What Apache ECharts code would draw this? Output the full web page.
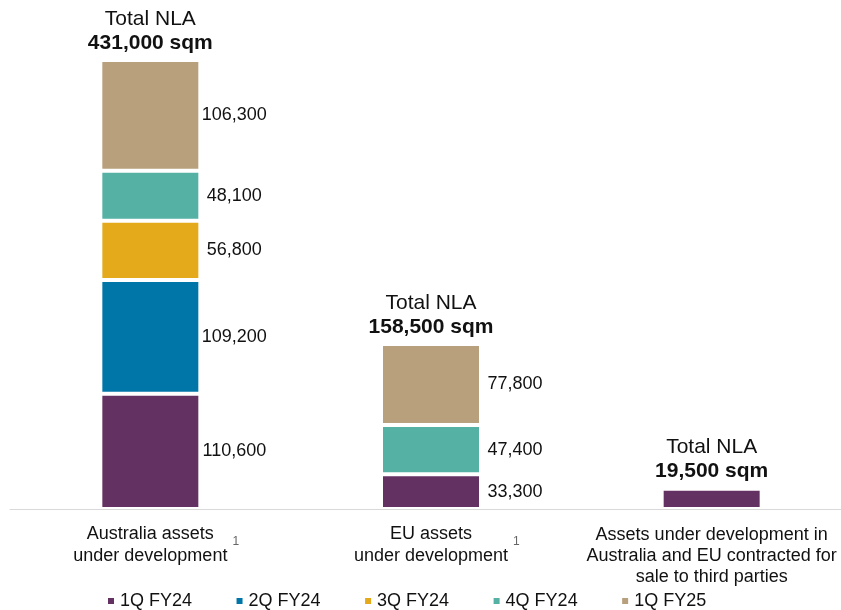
<!DOCTYPE html>
<html>
<head>
<meta charset="utf-8">
<script src="https://cdn.jsdelivr.net/npm/echarts@6/dist/echarts.min.js"></script>
<style>
  html, body { margin: 0; padding: 0; background: #fff; }
  #chart { width: 841px; height: 610px; }
</style>
</head>
<body>
<div id="chart"></div>
<script>
// Development pipeline by quarter of commencement (net lettable area, sqm)
const categories = [
  'Australia assets\nunder development',
  'EU assets\nunder development',
  'Assets under development in\nAustralia and EU contracted for\nsale to third parties'
];
const footnotes = ['1', '1', ''];

const seriesNames = ['1Q FY24', '2Q FY24', '3Q FY24', '4Q FY24', '1Q FY25'];
const q1FY24 = [110600, 33300, 19500];
const q2FY24 = [109200, null, null];
const q3FY24 = [56800, null, null];
const q4FY24 = [48100, 47400, null];
const q1FY25 = [106300, 77800, null];

// segment values are printed beside the bars for these categories only
const segmentLabelShown = [true, true, false];

const colors = ['#643262', '#0076A8', '#E5AA1C', '#55B1A4', '#B8A07C'];
const FONT = '"Liberation Sans", Arial, sans-serif';

const seriesValues = [q1FY24, q2FY24, q3FY24, q4FY24, q1FY25];
const totals = categories.map((_, i) =>
  seriesValues.reduce((s, arr) => s + (arr[i] || 0), 0));

const fmt = v => Number(v).toLocaleString('en-US');

const stacked = seriesNames.map((name, k) => ({
  name: name,
  type: 'bar',
  stack: 'nla',
  barWidth: 100,
  data: seriesValues[k],
  itemStyle: { color: colors[k], borderColor: '#fff', borderWidth: 2 },
  label: {
    show: true,
    position: 'right',
    align: 'center',
    distance: 34,
    fontFamily: FONT,
    fontSize: 18,
    color: '#111',
    formatter: p => (segmentLabelShown[p.dataIndex] && p.value != null) ? fmt(p.value) : ''
  },
  emphasis: { disabled: true },
  silent: true
}));

// invisible overlay bar carrying the "Total NLA" caption above each stack
const totalSeries = {
  name: 'Total',
  type: 'bar',
  barWidth: 100,
  barGap: '-100%',
  data: totals,
  itemStyle: { color: 'rgba(0,0,0,0)' },
  z: 1,
  silent: true,
  label: {
    show: true,
    position: 'top',
    distance: 5,
    formatter: p => '{a|Total NLA}\n{b|' + fmt(p.value) + ' sqm}',
    rich: {
      a: { fontFamily: FONT, fontSize: 21, color: '#111', lineHeight: 24 },
      b: { fontFamily: FONT, fontSize: 21, fontWeight: 'bold', color: '#111', lineHeight: 24 }
    }
  }
};

const chart = echarts.init(document.getElementById('chart'), null, { renderer: 'canvas' });
chart.setOption({
  animation: false,
  backgroundColor: '#fff',
  grid: { left: 10, right: -11, top: 60, bottom: 101, containLabel: false, outerBoundsMode: 'none' },
  xAxis: {
    type: 'category',
    data: categories,
    axisTick: { show: false },
    axisLine: { lineStyle: { color: '#D9D9D9', width: 1 } },
    axisLabel: {
      interval: 0,
      margin: 16,
      fontFamily: FONT,
      fontSize: 18,
      color: '#111',
      lineHeight: 21,
      formatter: (value, idx) => {
        const lines = value.split('\n');
        const note = footnotes[idx];
        if (!note) {
          return lines.map(ln => '{t|' + ln + '}').join('\n');
        }
        // two-line caption with a raised footnote marker after the last line
        return '{t1|' + lines[0] + '}\n{sp|' + note + '}{t2|' + lines[1] + '}{sup|' + note + '}';
      },
      rich: {
        t: { fontFamily: FONT, fontSize: 18, color: '#111', lineHeight: 21 },
        t1: { fontFamily: FONT, fontSize: 18, color: '#111', lineHeight: 19 },
        t2: { fontFamily: FONT, fontSize: 18, color: '#111', lineHeight: 24 },
        sup: { fontFamily: FONT, fontSize: 12, color: '#666', verticalAlign: 'top', lineHeight: 4, padding: [-8, 0, 0, 5] },
        sp: { fontFamily: FONT, fontSize: 12, color: 'rgba(0,0,0,0)', verticalAlign: 'top', lineHeight: 4, padding: [-8, 5, 0, 0] }
      }
    }
  },
  yAxis: {
    type: 'value',
    min: 0,
    max: 431000,
    show: false,
    splitLine: { show: false }
  },
  legend: {
    data: seriesNames,
    left: 106,
    top: 592,
    padding: 0,
    icon: 'rect',
    itemWidth: 8,
    itemHeight: 8,
    itemGap: 42.5,
    textStyle: { fontFamily: FONT, fontSize: 18, color: '#111' },
    selectedMode: false
  },
  series: stacked.concat([totalSeries])
});
</script>
</body>
</html>
